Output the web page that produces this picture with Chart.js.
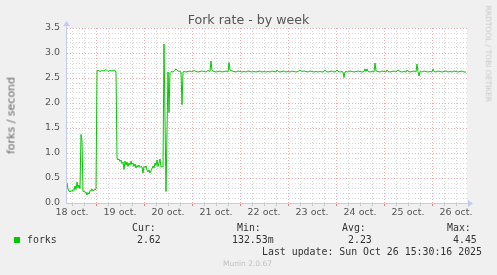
<!DOCTYPE html>
<html><head><meta charset="utf-8">
<script src="https://cdn.jsdelivr.net/npm/chart.js@4"></script>
<style>
html,body{margin:0;padding:0;background:#f0f0f0;}
#wrap{position:relative;width:497px;height:275px;overflow:hidden;background:#f0f0f0;}
canvas{position:absolute;left:0;top:0;}
.t{position:absolute;white-space:pre;line-height:1;}
.sans{font-family:'DejaVu Sans',sans-serif;}
.mono{font-family:'DejaVu Sans Mono',monospace;font-size:9.9px;color:#333;height:9.9px;}
</style></head><body>
<div id="wrap">
<canvas id="c" width="497" height="275"></canvas>
<div class="t sans" style="left:0;width:497px;text-align:center;top:14px;font-size:12.6px;height:12.6px;color:#555;">Fork rate - by week</div>
<div class="t sans" style="left:-49.1px;top:109.5px;width:120px;height:11px;text-align:center;font-size:11px;color:#666;transform:rotate(-90deg);">forks / second</div>
<div class="t sans" style="left:427.9px;top:49.75px;width:120px;height:7.5px;text-align:center;font-size:7.5px;color:#c8c8c8;transform:rotate(90deg);">RRDTOOL / TOBI OETIKER</div>
<div class="t mono" style="left:132px;top:222.5px;">Cur:</div>
<div class="t mono" style="left:237px;top:222.5px;">Min:</div>
<div class="t mono" style="left:342px;top:222.5px;">Avg:</div>
<div class="t mono" style="left:447px;top:222.5px;">Max:</div>
<div style="position:absolute;left:14px;top:237px;width:6px;height:6px;background:#00cc00;"></div>
<div class="t mono" style="left:27px;top:235.2px;">forks</div>
<div class="t mono" style="left:137px;top:235.2px;">2.62</div>
<div class="t mono" style="left:232px;top:235.2px;">132.53m</div>
<div class="t mono" style="left:348px;top:235.2px;">2.23</div>
<div class="t mono" style="left:453px;top:235.2px;">4.45</div>
<div class="t mono" style="left:262px;top:246.9px;">Last update: Sun Oct 26 15:30:16 2025</div>
<div class="t sans" style="left:-1px;width:497px;text-align:center;top:260.4px;font-size:7.5px;height:7.5px;color:#c0c0c0;">Munin 2.0.67</div>
</div>
<script>
// Time in hours since 18 oct. 00:00
const hours = [
 9.5,10,10.5,11,11.5,12,12.5,13,13.5,14,14.5,15,15.5,16,
 16.5,17,17.5,18,18.5,19,19.5,20,20.5,21,21.5,22,22.5,23,23.5,24,
 24.5,25,26,27,28,29,30,31,32,33,34,
 34.5,35,35.5,36,36.5,37,37.5,38,38.5,39,39.5,40,40.5,41,41.5,42,
 42.5,43,43.5,44,44.5,45,45.5,46,46.5,47,47.5,48,48.5,49,49.5,50,
 50.5,51,51.5,52,52.5,53,53.5,54,54.5,55,55.5,56,56.5,57,57.5,
 58,59,60,60.5,61,61.5,62,
 63,64,65,66,66.5,67,67.5,68,69,70,71,72,73,74,75,76,77,78,79,80,
 81,81.5,82,83,84,85,86,87,88,89,90,90.5,91,92,93,94,95,96,97,98,
 99,100,101,102,103,104,105,106,107,108,109,110,111,112,113,114,114.5,115,116,117,
 118,119,120,121,122,123,124,125,126,127,128,129,130,131,132,133,134,135,136,137,
 138,138.5,139,140,141,142,143,144,144.5,145,146,147,147.5,148,148.5,149,150,151,152,153,
 154,155,156,157,158,158.5,159,159.5,160,161,162,163,163.5,164,165,166,167,168,169,169.5,
 170,171,172,173,174,175,176,177,178,179,179.5,180,181,182,183,184,184.5,185,185.5,186,
 187,188,189,190,191,192,192.5,193,194,195,196,197,198,199,200,201,202,203,204,205,
 206,207,208,209
];
const forks = [
 0.40,0.28,0.24,0.22,0.25,0.23,0.27,0.25,0.34,0.27,0.42,0.30,0.36,0.29,
 1.37,1.24,0.23,0.24,0.21,0.22,0.16,0.21,0.18,0.25,0.24,0.28,0.24,0.27,0.26,0.28,
 2.64,2.66,2.63,2.65,2.64,2.67,2.63,2.65,2.64,2.66,2.63,
 0.90,0.86,0.88,0.83,0.86,0.79,0.82,0.67,0.84,0.76,0.82,0.73,0.80,0.76,0.84,0.77,
 0.80,0.73,0.78,0.70,0.75,0.72,0.76,0.71,0.73,0.72,0.60,0.73,0.71,0.74,0.66,0.62,
 0.66,0.60,0.64,0.69,0.74,0.70,0.80,0.75,0.86,0.73,0.80,0.88,0.72,0.73,0.72,
 3.18,0.23,2.62,1.81,2.61,2.63,2.62,
 2.63,2.68,2.64,2.63,2.62,1.97,2.62,2.63,2.62,2.63,2.64,2.62,2.65,2.63,2.62,2.63,2.64,2.63,2.62,2.65,
 2.63,2.84,2.65,2.63,2.62,2.63,2.64,2.62,2.63,2.64,2.62,2.81,2.66,2.64,2.63,2.62,2.64,2.63,2.62,2.63,
 2.62,2.64,2.63,2.62,2.63,2.62,2.63,2.64,2.62,2.63,2.62,2.63,2.62,2.64,2.63,2.62,2.66,2.63,2.62,2.63,
 2.64,2.62,2.63,2.62,2.64,2.63,2.62,2.63,2.66,2.63,2.64,2.63,2.62,2.64,2.63,2.62,2.63,2.62,2.63,2.62,
 2.63,2.66,2.63,2.62,2.63,2.64,2.62,2.63,2.66,2.63,2.62,2.63,2.62,2.51,2.62,2.63,2.62,2.64,2.63,2.62,
 2.63,2.64,2.63,2.62,2.63,2.68,2.63,2.68,2.63,2.62,2.63,2.62,2.80,2.64,2.63,2.62,2.64,2.63,2.62,2.66,
 2.63,2.62,2.63,2.64,2.62,2.66,2.63,2.62,2.63,2.62,2.66,2.63,2.62,2.63,2.64,2.62,2.78,2.63,2.54,2.63,
 2.62,2.64,2.63,2.62,2.63,2.62,2.68,2.63,2.62,2.64,2.63,2.62,2.63,2.64,2.62,2.63,2.62,2.64,2.63,2.62,
 2.63,2.64,2.62,2.62
];
const dayLabels = ['18 oct.','19 oct.','20 oct.','21 oct.','22 oct.','23 oct.','24 oct.','25 oct.','26 oct.'];
const yLabels = ['0.0','0.5','1.0','1.5','2.0','2.5','3.0','3.5'];

const X_MIN = 9.5, X_MAX = 209.5, Y_MIN = 0, Y_MAX = 3.5;
const xTickValues = []; for (let h = 12; h <= 204; h += 6) xTickValues.push(h);
const yTickValues = []; for (let i = 0; i <= 35; i++) yTickValues.push(i / 10);

const MINOR = '#d9d9d9', MAJOR = '#f2aaaa', AXIS = '#c4cbf2';
const isMajorX = v => v % 24 === 0;
const isMajorY = v => Math.abs(v * 2 - Math.round(v * 2)) < 1e-6;

Chart.defaults.font.family = "'DejaVu Sans', sans-serif";

const bgPlugin = {
  id: 'bg',
  beforeDraw(chart) {
    const a = chart.chartArea, c = chart.ctx;
    c.save(); c.fillStyle = '#ffffff';
    c.fillRect(a.left, a.top, a.right - a.left, a.bottom - a.top);
    c.restore();
  }
};
const axisPlugin = {
  id: 'axes',
  beforeDatasetsDraw(chart) {
    const a = chart.chartArea, c = chart.ctx;
    const y0 = Math.round(chart.scales.y.getPixelForValue(0)) + 0.5;
    const x0 = a.left - 0.5;
    c.save();
    c.strokeStyle = AXIS; c.fillStyle = AXIS; c.lineWidth = 1;
    c.beginPath(); c.moveTo(x0 - 0.5, y0); c.lineTo(a.right + 2, y0); c.stroke();
    c.beginPath(); c.moveTo(x0, y0); c.lineTo(x0, a.top - 2); c.stroke();
    c.beginPath(); c.moveTo(a.right + 1, y0 - 3.5); c.lineTo(a.right + 6, y0); c.lineTo(a.right + 1, y0 + 3.5); c.closePath(); c.fill();
    c.beginPath(); c.moveTo(x0 - 3.5, a.top - 2); c.lineTo(x0, a.top - 7); c.lineTo(x0 + 3.5, a.top - 2); c.closePath(); c.fill();
    c.restore();
  }
};

new Chart(document.getElementById('c'), {
  type: 'line',
  data: { datasets: [{
    label: 'forks',
    data: hours.map((h, i) => ({ x: h, y: forks[i] })),
    borderColor: '#00cc00', borderWidth: 1, pointRadius: 0, tension: 0, fill: false
  }]},
  options: {
    responsive: false, animation: false, events: [],
    layout: { padding: { left: 0, top: 28, right: 30, bottom: 0 } },
    plugins: { legend: { display: false }, tooltip: { enabled: false }, title: { display: false } },
    scales: {
      x: {
        type: 'linear', min: X_MIN, max: X_MAX,
        afterBuildTicks: s => { s.ticks = xTickValues.map(v => ({ value: v })); },
        afterFit: s => { s.height = 72; },
        ticks: {
          autoSkip: false, maxRotation: 0, minRotation: 0, padding: 1, color: '#555',
          font: { size: 9.5 },
          callback: v => ((v - 12) % 24 === 0 ? dayLabels[(v - 12) / 24] : '')
        },
        grid: {
          color: c => isMajorX(c.tick.value) ? MAJOR : MINOR,
          tickColor: c => isMajorX(c.tick.value) ? '#e88080' : '#c8c8c8',
          tickLength: 3, drawTicks: true, tickBorderDash: [], lineWidth: 1
        },
        border: { display: false, dash: [1, 2] }
      },
      y: {
        type: 'linear', min: Y_MIN, max: Y_MAX,
        afterBuildTicks: s => { s.ticks = yTickValues.map(v => ({ value: v })); },
        afterFit: s => { s.width = 67; },
        ticks: {
          autoSkip: false, padding: 7, color: '#555', font: { size: 9.5 },
          callback: v => (isMajorY(v) ? yLabels[Math.round(v * 2)] : '')
        },
        grid: {
          color: c => isMajorY(c.tick.value) ? MAJOR : MINOR,
          drawTicks: false, lineWidth: 1
        },
        border: { display: false, dash: [1, 2] }
      }
    }
  },
  plugins: [bgPlugin, axisPlugin]
});
</script>
</body></html>
